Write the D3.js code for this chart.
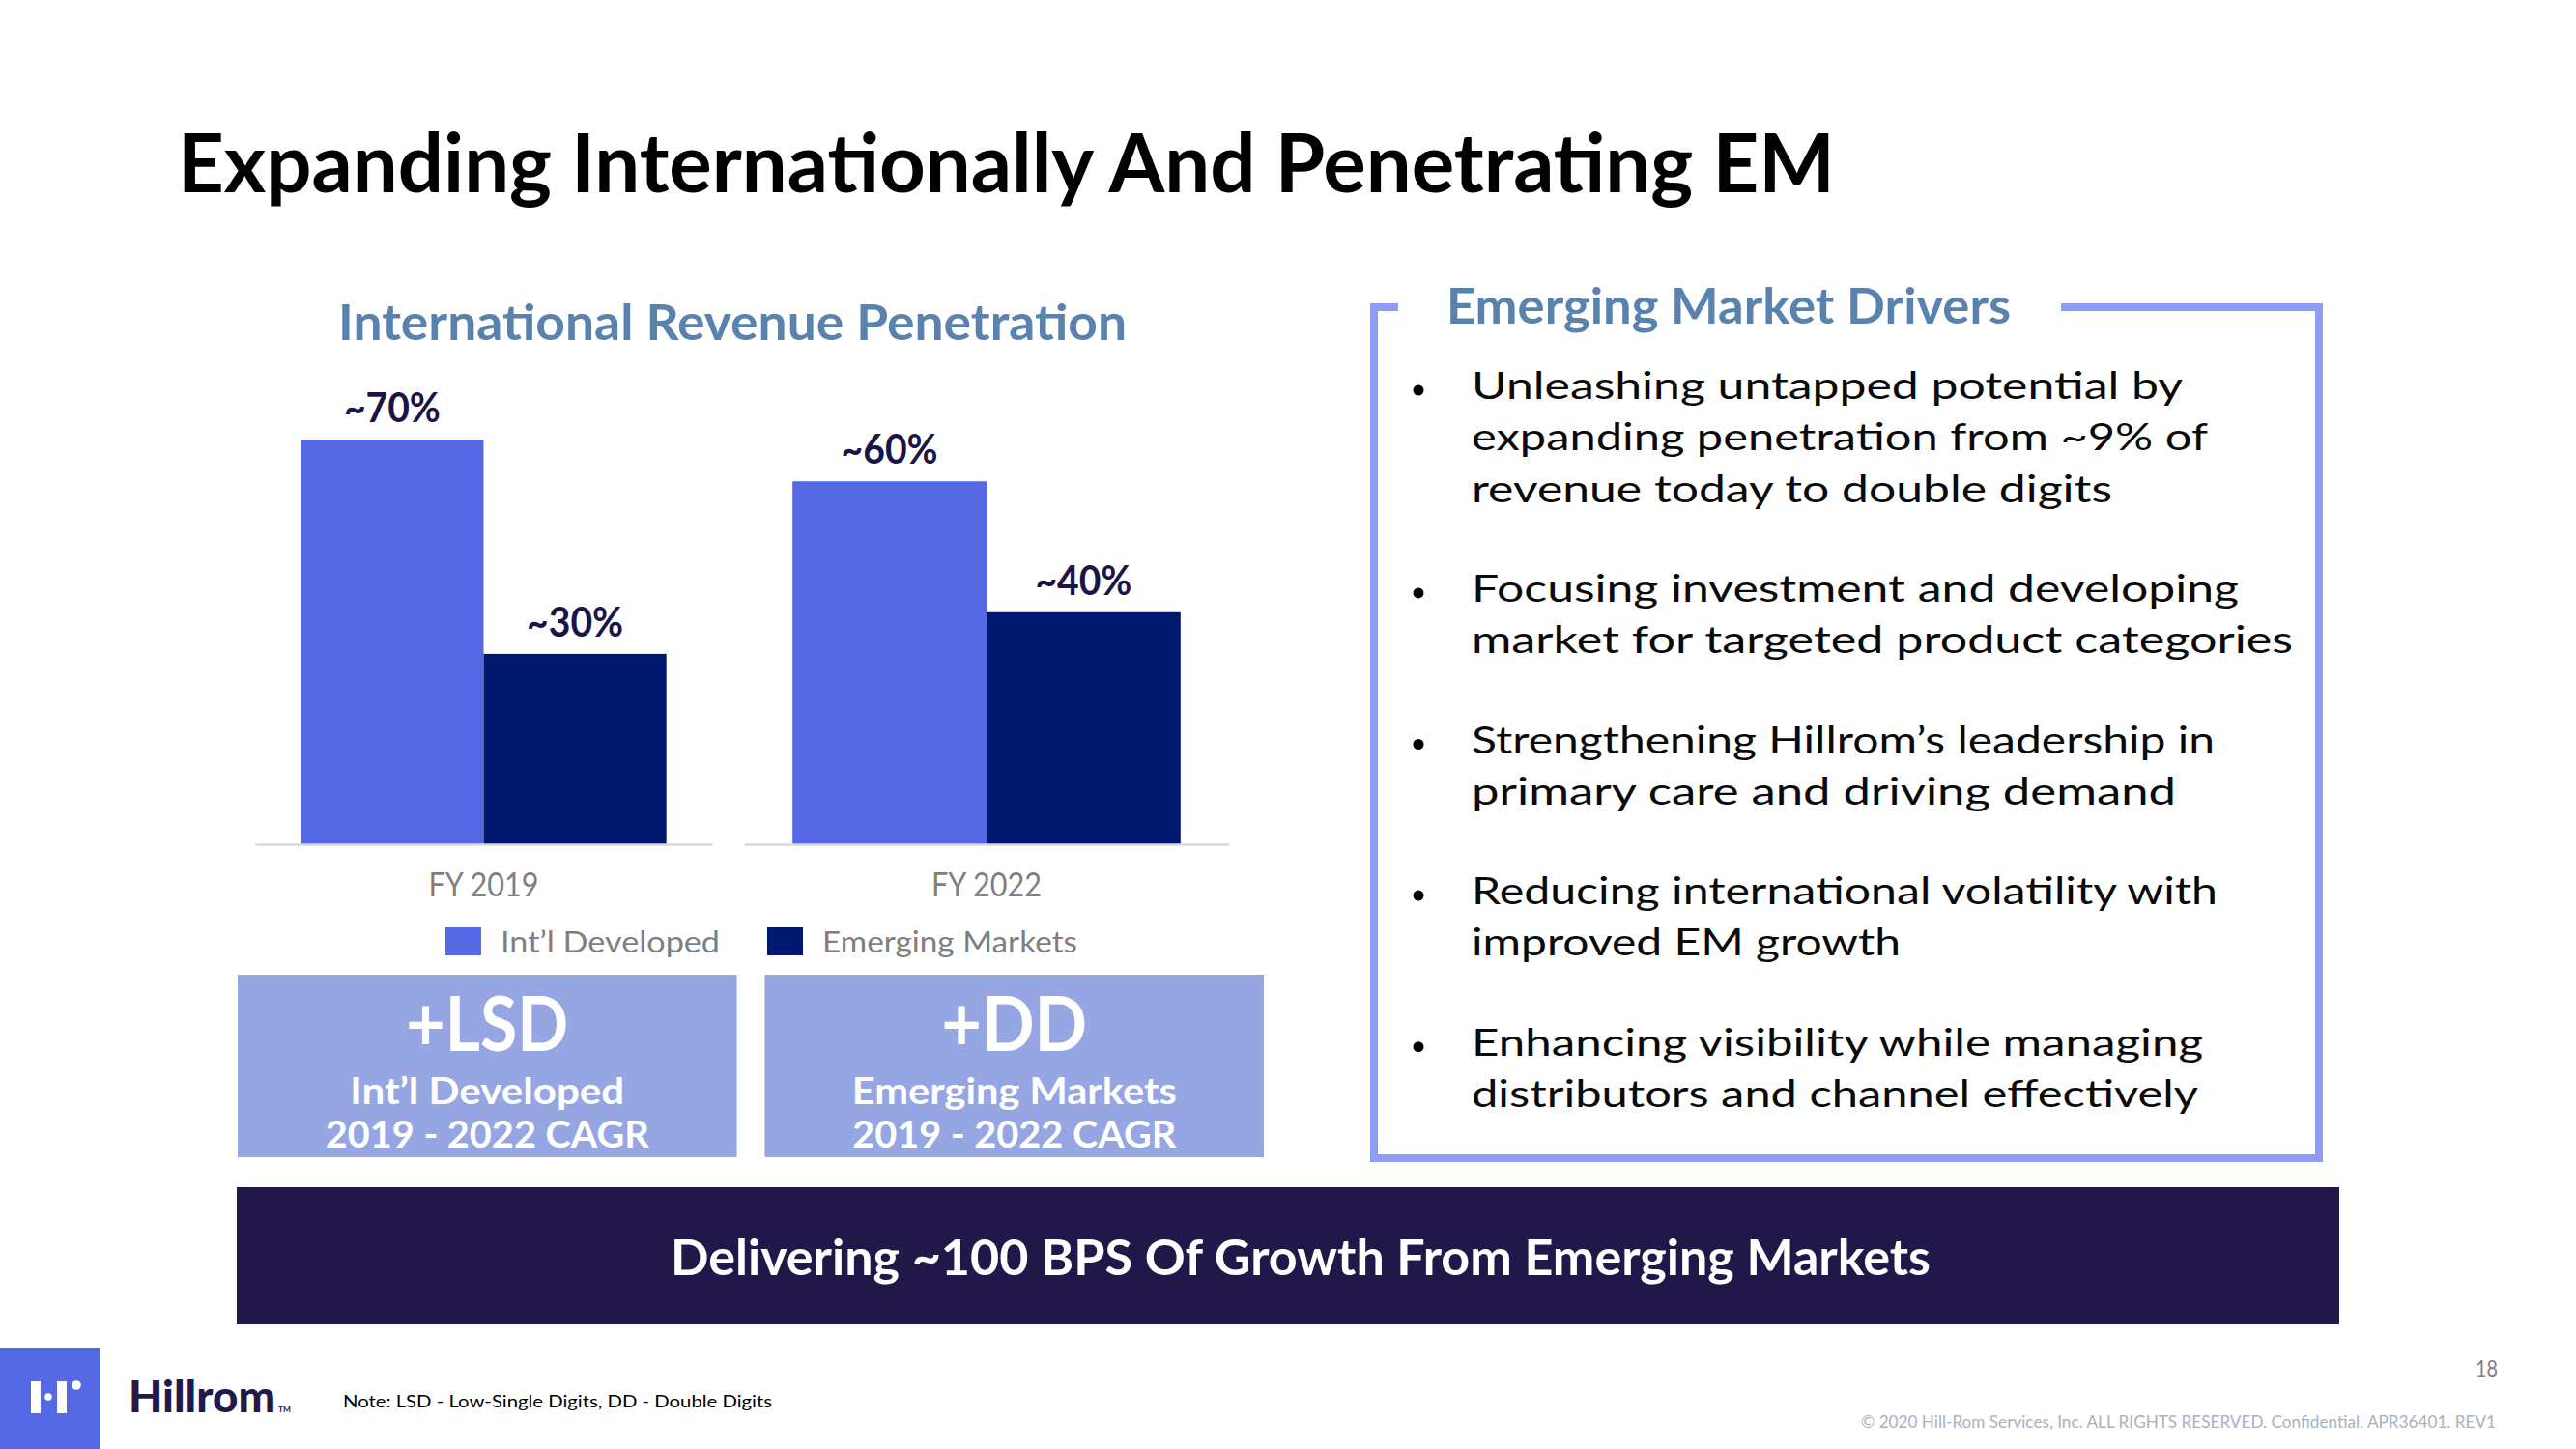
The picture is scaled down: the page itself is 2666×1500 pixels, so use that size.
<!DOCTYPE html>
<html>
<head>
<meta charset="utf-8">
<script src="https://cdn.jsdelivr.net/npm/d3@7"></script>
<style>
  html, body { margin: 0; padding: 0; background: #ffffff; }
  svg { display: block; font-family: Lato, "Open Sans", sans-serif; }
</style>
</head>
<body>
<script>
// ---------- data ----------
const categories = ["FY 2019", "FY 2022"];
const seriesNames = ["Int\u2019l Developed", "Emerging Markets"];
const intlDeveloped = [68, 61];
const emergingMarkets = [32, 39];
const intlLabels = ["~70%", "~60%"];
const emergingLabels = ["~30%", "~40%"];
const cagrValues = ["+LSD", "+DD"];
const cagrSeries = ["Int\u2019l Developed", "Emerging Markets"];
const cagrPeriod = "2019 - 2022 CAGR";
const driverBullets = [
  ["Unleashing untapped potential by", "expanding penetration from ~9% of", "revenue today to double digits"],
  ["Focusing investment and developing", "market for targeted product categories"],
  ["Strengthening Hillrom\u2019s leadership in", "primary care and driving demand"],
  ["Reducing international volatility with", "improved EM growth"],
  ["Enhancing visibility while managing", "distributors and channel effectively"]
];
const slideTitle = "Expanding Internationally And Penetrating EM";
const chartTitle = "International Revenue Penetration";
const driversTitle = "Emerging Market Drivers";
const bannerText = "Delivering ~100 BPS Of Growth From Emerging Markets";
const noteText = "Note: LSD - Low-Single Digits, DD - Double Digits";
const pageNumber = "18";
const copyrightText = "\u00A9 2020  Hill-Rom Services, Inc. ALL RIGHTS RESERVED. Confidential. APR36401. REV1";

// ---------- layout ----------
const W = 2666, H = 1500;
const CAP = 0.7165; // Lato cap-height ratio
const panelExtents = [[264, 737], [770, 1272]];
const bulletLineWidths = [[736, 762, 663], [794, 850], [769, 729], [772, 444], [757, 752]];

const svg = d3.select("body").append("svg").attr("width", W).attr("height", H);

const colLight = "#5469E3", colDark = "#00186E";
const steel = "#5A82AF";
const boxFill = "#96A6E3";
const bannerFill = "#211749";
const borderCol = "#8D9CF4";

function txt(g, s, x, yb, capH, opts = {}) {
  const t = g.append("text")
    .attr("x", x).attr("y", yb)
    .attr("text-anchor", opts.anchor || "start")
    .style("font-size", (capH / CAP) + "px")
    .style("font-weight", opts.weight || 400)
    .attr("fill", opts.fill || "#000")
    .text(s);
  if (opts.width) t.attr("textLength", opts.width).attr("lengthAdjust", "spacingAndGlyphs");
  return t;
}

// ---------- slide title ----------
txt(svg, slideTitle, 184, 199, 60, { weight: 700, width: 1715 });

// ---------- chart ----------
txt(svg, chartTitle, 758, 352, 37, { anchor: "middle", weight: 700, fill: steel, width: 816 });

const panel = d3.scaleOrdinal().domain(categories).range(panelExtents);
const y = d3.scaleLinear().domain([0, 100]).range([874, 258]);
const color = d3.scaleOrdinal().domain(seriesNames).range([colLight, colDark]);

const rows = categories.map((c, i) => ({
  cat: c,
  vals: [
    { s: seriesNames[0], v: intlDeveloped[i], label: intlLabels[i] },
    { s: seriesNames[1], v: emergingMarkets[i], label: emergingLabels[i] }
  ]
}));

rows.forEach(row => {
  const ext = panel(row.cat);
  const xi = d3.scaleBand().domain(seriesNames).range(ext).paddingOuter(0.25).paddingInner(0);
  const g = svg.append("g");

  g.selectAll("rect").data(row.vals).join("rect")
    .attr("x", d => xi(d.s))
    .attr("y", d => y(d.v))
    .attr("width", xi.bandwidth())
    .attr("height", d => y(0) - y(d.v))
    .attr("fill", d => color(d.s));

  g.selectAll("text.val").data(row.vals).join("text")
    .attr("class", "val")
    .attr("x", d => xi(d.s) + xi.bandwidth() / 2)
    .attr("y", d => y(d.v) - 18)
    .attr("text-anchor", "middle")
    .style("font-size", (30 / CAP) + "px")
    .style("font-weight", 700)
    .attr("fill", "#1B1547")
    .attr("textLength", 100).attr("lengthAdjust", "spacingAndGlyphs")
    .text(d => d.label);

  const sc = d3.scaleBand().domain([row.cat]).range(ext);
  const ax = svg.append("g").attr("transform", `translate(0,${y(0)})`)
    .call(d3.axisBottom(sc).tickSize(0).tickPadding(29));
  ax.select(".domain").attr("stroke", "#D9D9D9").attr("stroke-width", 2.5);
  ax.selectAll("text")
    .style("font-family", "Lato, 'Open Sans', sans-serif")
    .style("font-size", (25 / CAP) + "px")
    .attr("fill", "#7F7F7F")
    .attr("textLength", 114).attr("lengthAdjust", "spacingAndGlyphs");
});

// legend
const legend = svg.append("g");
const legendTextW = [227, 264];
let lx = 461;
seriesNames.forEach((s, i) => {
  legend.append("rect").attr("x", lx).attr("y", 960).attr("width", 37).attr("height", 29).attr("fill", color(s));
  txt(legend, s, lx + 57, 986, 22, { fill: "#7F7F7F", width: legendTextW[i] });
  lx += 57 + legendTextW[i] + 49;
});

// CAGR boxes
const boxX = d3.scaleBand().domain(seriesNames).range([246, 1308]).paddingInner(0.053);
const boxG = svg.append("g");
const cagrValW = [168, 151], cagrSerW = [284, 336];
seriesNames.forEach((s, i) => {
  const bx = boxX(s), bw = boxX.bandwidth(), cx = bx + bw / 2;
  boxG.append("rect").attr("x", bx).attr("y", 1009).attr("width", bw).attr("height", 189).attr("fill", boxFill);
  txt(boxG, cagrValues[i], cx, 1088, 56, { anchor: "middle", weight: 700, fill: "#fff", width: cagrValW[i] });
  txt(boxG, cagrSeries[i], cx, 1143, 28, { anchor: "middle", weight: 700, fill: "#fff", width: cagrSerW[i] });
  txt(boxG, cagrPeriod, cx, 1188, 28, { anchor: "middle", weight: 700, fill: "#fff", width: 335 });
});

// banner
svg.append("rect").attr("x", 245).attr("y", 1229).attr("width", 2176).attr("height", 142).attr("fill", bannerFill);
txt(svg, bannerText, 1346, 1320, 37, { anchor: "middle", weight: 700, fill: "#fff", width: 1304 });

// ---------- drivers panel ----------
svg.append("path")
  .attr("d", "M1447,318 H1422 V1199 H2400 V318 H2133")
  .attr("fill", "none").attr("stroke", borderCol).attr("stroke-width", 8)
  .attr("stroke-linejoin", "miter");
txt(svg, driversTitle, 1497, 335, 37, { weight: 700, fill: steel, width: 584 });

const bulletG = svg.append("g");
let by = 413;
const lineStep = 53.3, bulletGap = 50;
driverBullets.forEach((lines, bi) => {
  bulletG.append("circle").attr("cx", 1468).attr("cy", by - 9).attr("r", 5.5).attr("fill", "#000");
  lines.forEach((ln, j) => {
    txt(bulletG, ln, 1523, by + j * lineStep, 28, { fill: "#0A0A0A", width: bulletLineWidths[bi][j] });
  });
  by += lines.length * lineStep + bulletGap;
});

// ---------- footer ----------
svg.append("rect").attr("x", 0).attr("y", 1395).attr("width", 104).attr("height", 105).attr("fill", colLight);
svg.append("rect").attr("x", 32).attr("y", 1430).attr("width", 10).attr("height", 33).attr("fill", "#fff");
svg.append("circle").attr("cx", 50).attr("cy", 1446).attr("r", 3.8).attr("fill", "#fff");
svg.append("rect").attr("x", 59).attr("y", 1430).attr("width", 10).attr("height", 33).attr("fill", "#fff");
svg.append("circle").attr("cx", 79).attr("cy", 1434).attr("r", 4.8).attr("fill", "#fff");
txt(svg, "Hillrom", 133, 1462, 33, { weight: 900, fill: "#1E1A4B", width: 152 });
txt(svg, "TM", 288, 1462, 6, { weight: 700, fill: "#1E1A4B", width: 13 });

txt(svg, noteText, 355, 1457, 13, { width: 444 });
txt(svg, pageNumber, 2585, 1425, 16, { anchor: "end", fill: "#7F7F7F", width: 23 });
txt(svg, copyrightText, 2583, 1478, 13, { anchor: "end", fill: "#A9B1BD", width: 657 });
</script>
</body>
</html>
